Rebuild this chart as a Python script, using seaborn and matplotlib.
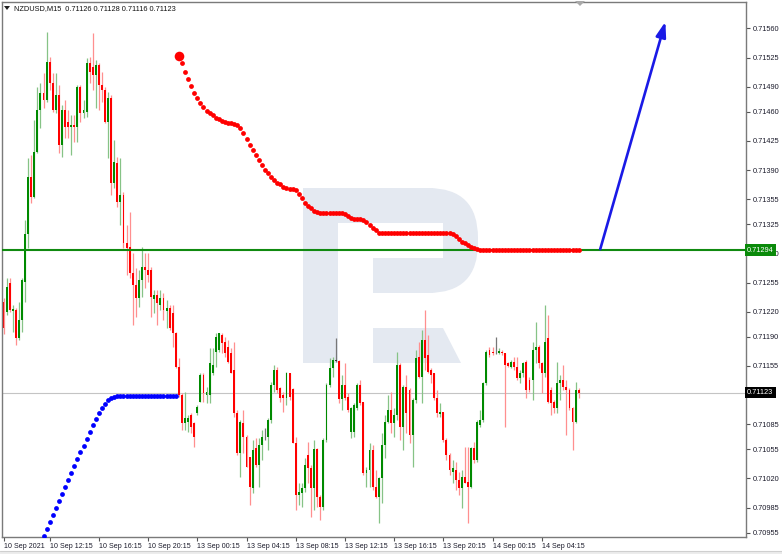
import numpy as np
import pandas as pd
import matplotlib
matplotlib.use("Agg")
import matplotlib.pyplot as plt
import seaborn as sns
from matplotlib.patches import Rectangle, FancyBboxPatch, Polygon

sns.set_style("white")
plt.rcParams['font.family'] = ['Liberation Sans', 'DejaVu Sans']

# ---------------- data (NZDUSD M15) ----------------
header_text = "NZDUSD,M15  0.71126 0.71128 0.71116 0.71123"

opens = [
    0.71232, 0.71220, 0.71254, 0.71221, 0.71222, 0.71188, 0.71210, 0.71256, 0.71313, 0.71382,
    0.71358, 0.71412, 0.71462, 0.71482, 0.71474, 0.71520, 0.71494, 0.71462, 0.71480, 0.71420,
    0.71462, 0.71448, 0.71442, 0.71444, 0.71442, 0.71490, 0.71458, 0.71460, 0.71518, 0.71514,
    0.71504, 0.71516, 0.71492, 0.71486, 0.71448, 0.71476, 0.71374, 0.71398, 0.71352, 0.71360,
    0.71302, 0.71298, 0.71266, 0.71252, 0.71236, 0.71258, 0.71274, 0.71270, 0.71270, 0.71235,
    0.71240, 0.71228, 0.71236, 0.71221, 0.71224, 0.71218, 0.71194, 0.71154, 0.71120, 0.71086,
    0.71088, 0.71096, 0.71086, 0.71098, 0.71112, 0.71144, 0.71120, 0.71120, 0.71146, 0.71172,
    0.71174, 0.71192, 0.71184, 0.71178, 0.71170, 0.71150, 0.71098, 0.71050, 0.71086, 0.71070,
    0.71046, 0.71008, 0.71056, 0.71036, 0.71060, 0.71074, 0.71070, 0.71090, 0.71132, 0.71150,
    0.71128, 0.71120, 0.71116, 0.71146, 0.71127, 0.71062, 0.71000, 0.71002, 0.71008, 0.71048,
    0.71032, 0.71008, 0.71055, 0.70998, 0.70986, 0.71066, 0.71132, 0.71152, 0.71161, 0.71161,
    0.71115, 0.71132, 0.71118, 0.71076, 0.71076, 0.71104, 0.71132, 0.71112, 0.71026, 0.71030,
    0.71054, 0.71010, 0.70998, 0.71020, 0.71060, 0.71088, 0.71102, 0.71086, 0.71096, 0.71156,
    0.71082, 0.71130, 0.71126, 0.71072, 0.71114, 0.71166, 0.71142, 0.71186, 0.71168, 0.71150,
    0.71146, 0.71116, 0.71097, 0.71100, 0.71066, 0.71048, 0.71028, 0.71030, 0.71018, 0.71008,
    0.71022, 0.71016, 0.71010, 0.71056, 0.71042, 0.71084, 0.71090, 0.71134, 0.71174, 0.71172,
    0.71170, 0.71170, 0.71172, 0.71170, 0.71158, 0.71154, 0.71160, 0.71154, 0.71140, 0.71146,
    0.71160, 0.71138, 0.71138, 0.71174, 0.71178, 0.71158, 0.71146, 0.71188, 0.71126, 0.71112,
    0.71104, 0.71134, 0.71138, 0.71130, 0.71126, 0.71104, 0.71088, 0.71126,
]
highs = [
    0.71236, 0.71260, 0.71260, 0.71228, 0.71224, 0.71232, 0.71260, 0.71330, 0.71404, 0.71408,
    0.71450, 0.71490, 0.71494, 0.71506, 0.71556, 0.71526, 0.71506, 0.71506, 0.71492, 0.71468,
    0.71474, 0.71462, 0.71456, 0.71456, 0.71492, 0.71492, 0.71474, 0.71524, 0.71526, 0.71554,
    0.71522, 0.71518, 0.71508, 0.71490, 0.71484, 0.71480, 0.71426, 0.71406, 0.71404, 0.71364,
    0.71324, 0.71340, 0.71290, 0.71272, 0.71270, 0.71298, 0.71290, 0.71290, 0.71274, 0.71246,
    0.71246, 0.71246, 0.71242, 0.71234, 0.71228, 0.71228, 0.71196, 0.71164, 0.71122, 0.71124,
    0.71096, 0.71098, 0.71088, 0.71108, 0.71146, 0.71146, 0.71130, 0.71176, 0.71176, 0.71194,
    0.71194, 0.71194, 0.71190, 0.71186, 0.71176, 0.71184, 0.71102, 0.71090, 0.71102, 0.71072,
    0.71046, 0.71066, 0.71068, 0.71068, 0.71078, 0.71080, 0.71092, 0.71136, 0.71156, 0.71154,
    0.71130, 0.71124, 0.71148, 0.71146, 0.71128, 0.71070, 0.71014, 0.71014, 0.71044, 0.71064,
    0.71036, 0.71066, 0.71056, 0.71000, 0.71068, 0.71134, 0.71164, 0.71166, 0.71188, 0.71162,
    0.71144, 0.71158, 0.71122, 0.71106, 0.71110, 0.71134, 0.71138, 0.71112, 0.71034, 0.71062,
    0.71060, 0.71030, 0.71022, 0.71074, 0.71096, 0.71120, 0.71124, 0.71104, 0.71172, 0.71158,
    0.71132, 0.71144, 0.71128, 0.71116, 0.71174, 0.71184, 0.71198, 0.71222, 0.71192, 0.71152,
    0.71146, 0.71126, 0.71110, 0.71100, 0.71068, 0.71050, 0.71042, 0.71040, 0.71028, 0.71030,
    0.71058, 0.71058, 0.71058, 0.71064, 0.71090, 0.71102, 0.71136, 0.71174, 0.71178, 0.71178,
    0.71190, 0.71176, 0.71174, 0.71170, 0.71160, 0.71162, 0.71166, 0.71166, 0.71150, 0.71160,
    0.71162, 0.71142, 0.71184, 0.71208, 0.71180, 0.71160, 0.71228, 0.71216, 0.71130, 0.71114,
    0.71160, 0.71144, 0.71156, 0.71138, 0.71128, 0.71106, 0.71136, 0.71128,
]
lows = [
    0.71193, 0.71216, 0.71220, 0.71196, 0.71180, 0.71186, 0.71196, 0.71232, 0.71296, 0.71350,
    0.71356, 0.71410, 0.71440, 0.71464, 0.71472, 0.71486, 0.71460, 0.71458, 0.71410, 0.71406,
    0.71428, 0.71428, 0.71408, 0.71424, 0.71424, 0.71448, 0.71452, 0.71454, 0.71494, 0.71486,
    0.71464, 0.71462, 0.71472, 0.71446, 0.71404, 0.71360, 0.71368, 0.71346, 0.71324, 0.71296,
    0.71264, 0.71260, 0.71204, 0.71214, 0.71226, 0.71238, 0.71248, 0.71256, 0.71214, 0.71218,
    0.71204, 0.71222, 0.71210, 0.71200, 0.71198, 0.71178, 0.71152, 0.71118, 0.71078, 0.71078,
    0.71076, 0.71074, 0.71058, 0.71096, 0.71112, 0.71112, 0.71110, 0.71110, 0.71144, 0.71154,
    0.71172, 0.71170, 0.71166, 0.71158, 0.71146, 0.71094, 0.71048, 0.71022, 0.71050, 0.71034,
    0.70988, 0.71002, 0.71034, 0.71010, 0.71042, 0.71066, 0.71054, 0.71086, 0.71124, 0.71122,
    0.71112, 0.71100, 0.71108, 0.71114, 0.71062, 0.70982, 0.70988, 0.70986, 0.71004, 0.71014,
    0.70974, 0.70982, 0.70986, 0.70970, 0.70982, 0.71064, 0.71130, 0.71142, 0.71160, 0.71110,
    0.71102, 0.71114, 0.71100, 0.71068, 0.71070, 0.71102, 0.71108, 0.71024, 0.71010, 0.71010,
    0.71006, 0.70996, 0.70966, 0.70990, 0.71044, 0.71086, 0.71074, 0.71070, 0.71090, 0.71066,
    0.71054, 0.71074, 0.71062, 0.71034, 0.71110, 0.71140, 0.71110, 0.71150, 0.71146, 0.71134,
    0.71114, 0.71094, 0.71094, 0.71064, 0.71042, 0.71024, 0.71014, 0.71006, 0.71000, 0.70984,
    0.71014, 0.70966, 0.71008, 0.71038, 0.71040, 0.71082, 0.71088, 0.71132, 0.71166, 0.71168,
    0.71169, 0.71169, 0.71168, 0.71082, 0.71154, 0.71152, 0.71150, 0.71138, 0.71134, 0.71142,
    0.71116, 0.71124, 0.71114, 0.71158, 0.71152, 0.71122, 0.71142, 0.71110, 0.71096, 0.71098,
    0.71098, 0.71114, 0.71126, 0.71072, 0.71102, 0.71054, 0.71086, 0.71116,
]
closes = [
    0.71200, 0.71250, 0.71222, 0.71223, 0.71188, 0.71210, 0.71258, 0.71313, 0.71382, 0.71358,
    0.71412, 0.71462, 0.71482, 0.71474, 0.71520, 0.71494, 0.71462, 0.71480, 0.71420, 0.71462,
    0.71442, 0.71442, 0.71444, 0.71442, 0.71490, 0.71458, 0.71462, 0.71518, 0.71508, 0.71504,
    0.71516, 0.71492, 0.71486, 0.71448, 0.71476, 0.71374, 0.71400, 0.71352, 0.71360, 0.71302,
    0.71296, 0.71266, 0.71252, 0.71236, 0.71258, 0.71274, 0.71270, 0.71264, 0.71238, 0.71240,
    0.71230, 0.71236, 0.71222, 0.71224, 0.71200, 0.71194, 0.71154, 0.71120, 0.71086, 0.71092,
    0.71092, 0.71082, 0.71070, 0.71106, 0.71144, 0.71122, 0.71124, 0.71158, 0.71156, 0.71190,
    0.71194, 0.71182, 0.71170, 0.71160, 0.71146, 0.71098, 0.71050, 0.71088, 0.71070, 0.71034,
    0.71010, 0.71054, 0.71036, 0.71060, 0.71070, 0.71074, 0.71090, 0.71132, 0.71150, 0.71126,
    0.71116, 0.71116, 0.71146, 0.71118, 0.71062, 0.71000, 0.71004, 0.71008, 0.71036, 0.71032,
    0.71008, 0.71055, 0.70998, 0.70986, 0.71066, 0.71132, 0.71152, 0.71162, 0.71161, 0.71115,
    0.71132, 0.71116, 0.71102, 0.71104, 0.71108, 0.71132, 0.71110, 0.71026, 0.71030, 0.71054,
    0.71010, 0.70998, 0.71020, 0.71060, 0.71088, 0.71102, 0.71086, 0.71096, 0.71156, 0.71082,
    0.71130, 0.71098, 0.71072, 0.71114, 0.71164, 0.71142, 0.71186, 0.71164, 0.71148, 0.71144,
    0.71116, 0.71098, 0.71100, 0.71066, 0.71048, 0.71030, 0.71032, 0.71018, 0.71008, 0.71022,
    0.71014, 0.71010, 0.71056, 0.71042, 0.71088, 0.71090, 0.71134, 0.71172, 0.71168, 0.71170,
    0.71170, 0.71173, 0.71170, 0.71156, 0.71155, 0.71160, 0.71154, 0.71140, 0.71146, 0.71158,
    0.71126, 0.71126, 0.71174, 0.71178, 0.71158, 0.71146, 0.71184, 0.71112, 0.71110, 0.71104,
    0.71134, 0.71138, 0.71130, 0.71126, 0.71104, 0.71088, 0.71126, 0.71123,
]

# Parabolic-style dots: red (above price) and blue (below price)
red_dot_start = 57
red_dots = [
    0.71527, 0.71518, 0.71508, 0.71499, 0.71491, 0.71483, 0.71477, 0.71471, 0.71466, 0.71461,
    0.71458, 0.71456, 0.71453, 0.71451, 0.71449, 0.71448, 0.71446, 0.71446, 0.71445, 0.71444,
    0.71440, 0.71434, 0.71427, 0.71420, 0.71414, 0.71408, 0.71402, 0.71396, 0.71390, 0.71386,
    0.71382, 0.71378, 0.71375, 0.71373, 0.71370, 0.71368, 0.71367, 0.71367, 0.71366, 0.71361,
    0.71356, 0.71351, 0.71347, 0.71344, 0.71341, 0.71340, 0.71338, 0.71338, 0.71338, 0.71338,
    0.71338, 0.71338, 0.71338, 0.71338, 0.71337, 0.71335, 0.71333, 0.71331, 0.71331, 0.71331,
    0.71330, 0.71328, 0.71324, 0.71320, 0.71318, 0.71315, 0.71314, 0.71314, 0.71314, 0.71314,
    0.71314, 0.71314, 0.71314, 0.71314, 0.71314, 0.71314, 0.71314, 0.71314, 0.71314, 0.71314,
    0.71314, 0.71314, 0.71314, 0.71314, 0.71314, 0.71314, 0.71314, 0.71314, 0.71314, 0.71313,
    0.71311, 0.71307, 0.71304, 0.71302, 0.71300, 0.71298, 0.71296, 0.71295, 0.71294, 0.71294,
    0.71294, 0.71294, 0.71294, 0.71294, 0.71294, 0.71294, 0.71294, 0.71294, 0.71294, 0.71294,
    0.71294, 0.71294, 0.71294, 0.71294, 0.71294, 0.71294, 0.71294, 0.71294, 0.71294, 0.71294,
    0.71294, 0.71294, 0.71294, 0.71294, 0.71294, 0.71294, 0.71294, 0.71294, 0.71294, 0.71294,
    0.71294,
]
blue_dot_start = 13
blue_dots = [
    0.70951, 0.70959, 0.70968, 0.70976, 0.70984, 0.70993, 0.71001, 0.71010, 0.71018, 0.71026,
    0.71035, 0.71043, 0.71052, 0.71059, 0.71067, 0.71076, 0.71084, 0.71091, 0.71098, 0.71104,
    0.71109, 0.71114, 0.71116, 0.71118, 0.71119, 0.71119, 0.71119, 0.71119, 0.71119, 0.71119,
    0.71119, 0.71119, 0.71119, 0.71119, 0.71119, 0.71119, 0.71119, 0.71119, 0.71119, 0.71119,
    0.71119, 0.71119, 0.71119, 0.71119,
]

support_level = 0.71294
last_price = 0.71123
arrow_from = (194.0, 0.71295)
arrow_to = (215.2, 0.71568)

x_tick_bars = [0, 15, 31, 47, 63, 79, 95, 111, 127, 143, 159, 175]
x_tick_labels = ["10 Sep 2021", "10 Sep 12:15", "10 Sep 16:15", "10 Sep 20:15",
                 "13 Sep 00:15", "13 Sep 04:15", "13 Sep 08:15", "13 Sep 12:15",
                 "13 Sep 16:15", "13 Sep 20:15", "14 Sep 00:15", "14 Sep 04:15"]
y_tick_values = [0.71560, 0.71525, 0.71490, 0.71460, 0.71425, 0.71390, 0.71355, 0.71325,
                 0.71290, 0.71255, 0.71220, 0.71190, 0.71155, 0.71085, 0.71055, 0.71020,
                 0.70985, 0.70955]

FS = 5.1

# ---------------- figure ----------------
W, H = 782, 554
fig = plt.figure(figsize=(W / 100, H / 100), dpi=100)

# background layer (watermark) in pixel coordinates
bg = fig.add_axes([0, 0, 1, 1])
bg.set_xlim(0, W)
bg.set_ylim(H, 0)
bg.axis('off')
bg.set_zorder(0)
wm = '#e4e9f1'
bg.add_patch(FancyBboxPatch((373, 188), 105, 105,
                            boxstyle="round,pad=0,rounding_size=50", fc=wm, ec='none'))
bg.add_patch(Rectangle((303, 188), 130, 35, fc=wm, ec='none'))
bg.add_patch(Rectangle((373, 258), 60, 35, fc=wm, ec='none'))
bg.add_patch(Rectangle((303, 188), 35, 175, fc=wm, ec='none'))
bg.add_patch(Rectangle((338, 223), 105, 35, fc='white', ec='none'))
bg.add_patch(Polygon([(373, 328), (443, 328), (461, 363), (373, 363)], closed=True, fc=wm, ec='none'))
bg.add_patch(Rectangle((0, 550.5), W, 4, fc='#ececec', ec='none'))
bg.plot([0, W], [550.5, 550.5], color='#cfcfcf', lw=0.8)

ax = fig.add_axes([2 / W, (H - 537) / H, 744 / W, 535 / H])
ax.set_zorder(1)
ax.patch.set_visible(False)

df = pd.DataFrame({"bar": np.arange(len(opens)), "open": opens, "high": highs,
                   "low": lows, "close": closes})
up = df["close"] > df["open"]
down = df["close"] < df["open"]
flat = df["close"] == df["open"]

body_w = 0.62
min_h = 0.000009
for mask, wick_c, body_c in [(up, '#86c386', '#008a00'),
                             (down, '#ff8f8f', '#ff0000'),
                             (flat, '#777777', '#333333')]:
    d = df[mask]
    ax.vlines(d["bar"], d["low"], d["high"], color=wick_c, lw=0.9, zorder=2)
    bottoms = np.minimum(d["open"], d["close"])
    heights = np.maximum(np.abs(d["close"] - d["open"]), min_h)
    ax.bar(d["bar"], heights, bottom=bottoms, width=body_w, color=body_c,
           linewidth=0, zorder=2.5)

ax.axhline(last_price, color='#c4c4c4', lw=0.8, zorder=1)
ax.axhline(support_level, color='#108a10', lw=1.5, zorder=3)

red_x = np.arange(red_dot_start, red_dot_start + len(red_dots))
blue_x = np.arange(blue_dot_start, blue_dot_start + len(blue_dots))
sns.scatterplot(x=red_x[1:], y=red_dots[1:], color='#ff0000', s=12, linewidth=0,
                ax=ax, zorder=4, legend=False)
sns.scatterplot(x=red_x[:1], y=red_dots[:1], color='#ff0000', s=48, linewidth=0,
                ax=ax, zorder=4, legend=False)
sns.scatterplot(x=blue_x, y=blue_dots, color='#0000ff', s=12, linewidth=0,
                ax=ax, zorder=4, legend=False)

ax.annotate("", xy=arrow_to, xytext=arrow_from,
            arrowprops=dict(arrowstyle="-|>,head_length=0.9,head_width=0.3",
                            color='#1a1ae6', lw=1.9, shrinkA=0, shrinkB=0),
            zorder=5)

ax.set_xlim(-0.5, 241.4)
ax.set_ylim(0.709496, 0.715916)

ax.yaxis.tick_right()
ax.set_yticks(y_tick_values)
ax.set_yticklabels([f"{v:.5f}" for v in y_tick_values])
ax.set_xticks(x_tick_bars)
ax.set_xticklabels(x_tick_labels, ha='left')
ax.tick_params(axis='y', right=True, left=False, length=3, width=0.8, pad=2,
               labelsize=FS + 0.2, labelcolor='#1b1b2b', color='#555555')
ax.tick_params(axis='x', bottom=True, length=3, width=0.8, pad=1.5,
               labelsize=FS, labelcolor='#1b1b2b', color='#555555')
for sp in ax.spines.values():
    sp.set_color('#7a7a7a')
    sp.set_linewidth(1.0)

ytr = ax.get_yaxis_transform()
ax.text(1.0015, support_level, f"{support_level:.5f}", transform=ytr, ha='left', va='center',
        fontsize=FS + 0.2, color='white', zorder=10, clip_on=False,
        bbox=dict(boxstyle='square,pad=0.32', fc='#0a8a0a', ec='none'))
ax.text(1.0015, last_price, f"{last_price:.5f}", transform=ytr, ha='left', va='center',
        fontsize=FS + 0.2, color='white', zorder=10, clip_on=False,
        bbox=dict(boxstyle='square,pad=0.32', fc='black', ec='none'))

# overlay: header and chart-shift marker
ov = fig.add_axes([0, 0, 1, 1])
ov.set_xlim(0, W)
ov.set_ylim(H, 0)
ov.axis('off')
ov.set_zorder(6)
ov.patch.set_visible(False)
ov.add_patch(Polygon([(575, 1), (585, 1), (580, 6)], closed=True, fc='#a9a9a9', ec='none'))
ov.add_patch(Polygon([(4, 6), (10, 6), (7, 10)], closed=True, fc='#202020', ec='none'))
ov.text(14, 8.5, header_text, ha='left', va='center', fontsize=FS + 0.2, color='#111111')

fig.savefig("out.png", dpi=100)
